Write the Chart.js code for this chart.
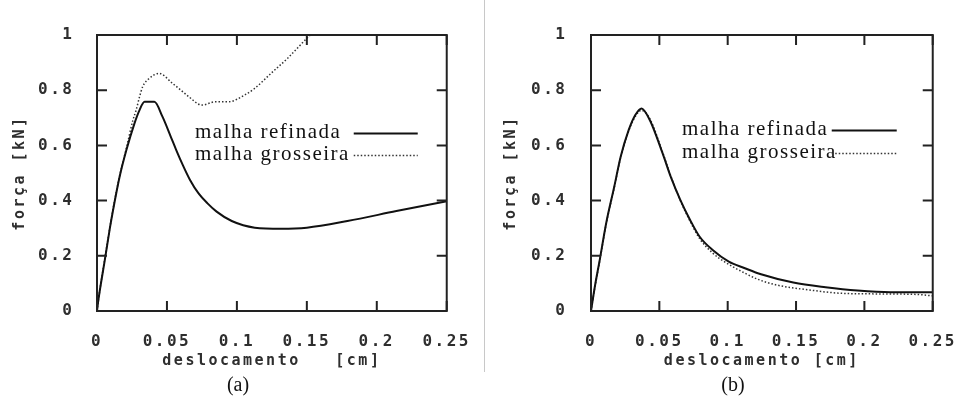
<!DOCTYPE html>
<html>
<head>
<meta charset="utf-8">
<script src="https://cdn.jsdelivr.net/npm/chart.js@4.4.1/dist/chart.umd.min.js"></script>
<style>
  body { margin: 0; background: #fff; width: 970px; height: 401px; position: relative; overflow: hidden; }
  canvas { position: absolute; top: 0; }
  #chartA { left: 0; }
  #chartB { left: 484px; }
  #divider { position: absolute; left: 484px; top: 0; width: 1px; height: 372px; background: #c8c8c8; }
  .caption { position: absolute; top: 373px; width: 60px; text-align: center;
             font-family: 'Liberation Serif', 'Times New Roman', serif; font-size: 20px; color: #111; }
</style>
</head>
<body>
<canvas id="chartA" width="484" height="401"></canvas>
<div id="divider"></div>
<canvas id="chartB" width="486" height="401"></canvas>
<div class="caption" style="left:208px">(a)</div>
<div class="caption" style="left:703px">(b)</div>
<script>
// tick values and labels (shared by both plots)
const xTicks = [0, 0.05, 0.1, 0.15, 0.2, 0.25];
const xLabels = ['0', '0.05', '0.1', '0.15', '0.2', '0.25'];
const yTicks = [0, 0.2, 0.4, 0.6, 0.8, 1];
const yLabels = ['0', '0.2', '0.4', '0.6', '0.8', '1'];

const seriesNames = ['malha refinada', 'malha grosseira'];

// (a) refined mesh
const aRefX = [0, 0.001, 0.0056, 0.0092, 0.0115, 0.0162, 0.021, 0.0268, 0.0304, 0.034, 0.041, 0.0468, 0.0527, 0.0565, 0.0608, 0.0665, 0.0726, 0.079, 0.0855, 0.0963, 0.1128, 0.1316, 0.15, 0.179, 0.214, 0.25];
const aRefY = [0, 0.04, 0.185, 0.30, 0.366, 0.487, 0.583, 0.68, 0.728, 0.758, 0.758, 0.704, 0.632, 0.585, 0.535, 0.475, 0.426, 0.39, 0.36, 0.326, 0.302, 0.298, 0.302, 0.326, 0.362, 0.398];
// (a) coarse mesh
const aCoaX = [0, 0.001, 0.0056, 0.0115, 0.0162, 0.021, 0.0256, 0.028, 0.0304, 0.0327, 0.0374, 0.0445, 0.0539, 0.06, 0.0657, 0.075, 0.0845, 0.094, 0.1057, 0.1128, 0.1246, 0.1363, 0.15, 0.1525];
const aCoaY = [0, 0.04, 0.19, 0.37, 0.49, 0.59, 0.69, 0.728, 0.776, 0.813, 0.843, 0.861, 0.825, 0.80, 0.776, 0.746, 0.758, 0.758, 0.783, 0.807, 0.862, 0.916, 0.988, 1.0];

// (b) refined mesh
const bRefX = [0, 0.0028, 0.0064, 0.0111, 0.017, 0.0217, 0.0276, 0.0324, 0.037, 0.043, 0.0524, 0.0583, 0.0654, 0.0725, 0.0795, 0.089, 0.1008, 0.1126, 0.1244, 0.148, 0.1716, 0.195, 0.219, 0.25];
const bRefY = [0, 0.088, 0.185, 0.318, 0.45, 0.559, 0.656, 0.71, 0.734, 0.692, 0.571, 0.487, 0.402, 0.33, 0.269, 0.221, 0.179, 0.155, 0.133, 0.103, 0.086, 0.074, 0.068, 0.068];
// (b) coarse mesh
const bCoaX = [0, 0.0028, 0.0064, 0.0111, 0.017, 0.0217, 0.0276, 0.0324, 0.037, 0.043, 0.0524, 0.0583, 0.0654, 0.0725, 0.0795, 0.089, 0.0984, 0.1126, 0.122, 0.136, 0.16, 0.1834, 0.207, 0.238, 0.25];
const bCoaY = [0, 0.085, 0.182, 0.315, 0.447, 0.556, 0.652, 0.705, 0.727, 0.697, 0.575, 0.49, 0.40, 0.325, 0.262, 0.21, 0.176, 0.137, 0.115, 0.094, 0.076, 0.064, 0.062, 0.06, 0.055];

const monoFont = "'DejaVu Sans Mono', monospace";
Chart.defaults.color = '#2e2e2e';

function pts(xs, ys) {
  return xs.map((x, i) => ({ x: x, y: ys[i] }));
}

// the gnuplot font is wide, so space the letters out
const spacing = {
  id: 'spacing',
  beforeUpdate(chart) { chart.ctx.letterSpacing = '2.5px'; },
  beforeDraw(chart) { chart.ctx.letterSpacing = '2.5px'; }
};

// box around the plot with inward ticks on all four sides
const frame = {
  id: 'frame',
  afterDatasetsDraw(chart) {
    const { ctx, chartArea: { left, right, top, bottom }, scales: { x, y } } = chart;
    ctx.save();
    ctx.strokeStyle = '#222';
    ctx.lineWidth = 2;
    ctx.strokeRect(left, top, right - left, bottom - top);
    ctx.beginPath();
    x.ticks.forEach(t => {
      const px = x.getPixelForValue(t.value);
      ctx.moveTo(px, bottom); ctx.lineTo(px, bottom - 10);
      ctx.moveTo(px, top); ctx.lineTo(px, top + 10);
    });
    y.ticks.forEach(t => {
      const py = y.getPixelForValue(t.value);
      ctx.moveTo(left, py); ctx.lineTo(left + 10, py);
      ctx.moveTo(right, py); ctx.lineTo(right - 10, py);
    });
    ctx.stroke();
    ctx.restore();
  }
};

// legend inside the plot: text on the left, line sample on the right
const legendBox = {
  id: 'legendBox',
  afterDatasetsDraw(chart, args, opts) {
    const { ctx, chartArea } = chart;
    ctx.save();
    ctx.letterSpacing = '1.5px';
    ctx.font = "21px 'Liberation Serif', 'Times New Roman', serif";
    ctx.fillStyle = '#111';
    ctx.textBaseline = 'alphabetic';
    chart.data.datasets.forEach((ds, i) => {
      const base = chartArea.top + opts.top + i * opts.gap;
      ctx.fillText(ds.label, chartArea.left + opts.left, base);
      const x1 = chartArea.right - opts.right;
      ctx.beginPath();
      ctx.setLineDash(ds.borderDash || []);
      ctx.lineWidth = ds.borderWidth;
      ctx.strokeStyle = ds.borderColor;
      ctx.moveTo(x1 - opts.len, base - 4.5);
      ctx.lineTo(x1, base - 4.5);
      ctx.stroke();
    });
    ctx.restore();
  }
};

function makeChart(id, refined, coarse, geo) {
  new Chart(document.getElementById(id), {
    type: 'line',
    data: {
      datasets: [{
        label: seriesNames[0],
        data: refined,
        borderColor: '#111',
        borderWidth: 2,
        pointRadius: 0,
        cubicInterpolationMode: 'monotone'
      }, {
        label: seriesNames[1],
        data: coarse,
        borderColor: '#333',
        borderWidth: 1.5,
        borderDash: [1.5, 2],
        pointRadius: 0,
        cubicInterpolationMode: 'monotone'
      }]
    },
    options: {
      responsive: false,
      animation: false,
      devicePixelRatio: 1,
      layout: { padding: { left: 0, right: geo.padRight, top: 35, bottom: 31 } },
      plugins: {
        legend: { display: false },
        tooltip: { enabled: false },
        legendBox: geo.legend
      },
      scales: {
        x: {
          type: 'linear',
          min: 0,
          max: 0.25,
          afterBuildTicks: s => { s.ticks = xTicks.map(v => ({ value: v })); },
          afterFit: s => { s.height = 59; },
          ticks: {
            autoSkip: false,
            maxRotation: 0,
            padding: 13,
            font: { family: monoFont, size: 16, weight: 'bold' },
            callback: (v, i) => xLabels[i]
          },
          grid: { display: false },
          border: { display: false },
          title: {
            display: true,
            text: geo.xTitle,
            font: { family: monoFont, size: 15, weight: 'bold', lineHeight: 1.2 },
            padding: 0
          }
        },
        y: {
          min: 0,
          max: 1,
          afterBuildTicks: s => { s.ticks = yTicks.map(v => ({ value: v })); },
          afterFit: s => { s.width = geo.yWidth; },
          ticks: {
            padding: geo.yPad,
            font: { family: monoFont, size: 16, weight: 'bold' },
            callback: (v, i) => yLabels[i]
          },
          grid: { display: false },
          border: { display: false },
          title: {
            display: true,
            text: 'força [kN]',
            font: { family: monoFont, size: 15, weight: 'bold', lineHeight: 1.2 },
            padding: { top: geo.yTitlePad, bottom: 0 }
          }
        }
      }
    },
    plugins: [spacing, frame, legendBox]
  });
}

makeChart('chartA', pts(aRefX, aRefY), pts(aCoaX, aCoaY), {
  padRight: 33, yWidth: 97, yPad: 14.5, yTitlePad: 11,
  xTitle: 'deslocamento   [cm]',
  legend: { left: 98, top: 103, gap: 22, right: 29, len: 64 }
});

makeChart('chartB', pts(bRefX, bRefY), pts(bCoaX, bCoaY), {
  padRight: 26, yWidth: 107, yPad: 15.5, yTitlePad: 18,
  xTitle: 'deslocamento [cm]',
  legend: { left: 91, top: 100, gap: 23, right: 36, len: 65 }
});
</script>
</body>
</html>
